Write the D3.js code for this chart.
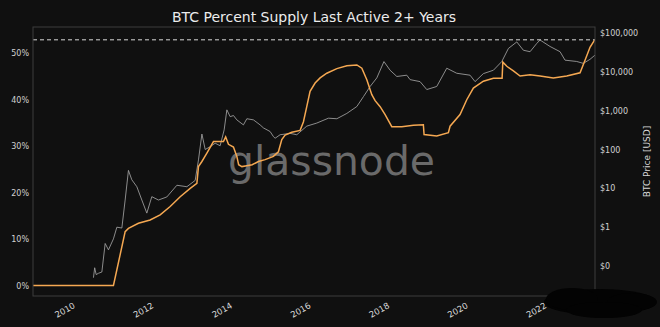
<!DOCTYPE html>
<html><head><meta charset="utf-8">
<script src="https://cdn.jsdelivr.net/npm/d3@7"></script>
<style>
html,body{margin:0;padding:0;background:#101010;}
svg{display:block;}
text{font-family:"DejaVu Sans",sans-serif;}
</style></head>
<body>
<svg id="c" width="660" height="327"></svg>
<script>
// ---- data (decimal years) ----
const supplyYears = [2009.01,2011.076,2011.374,2011.458,2011.712,2012.010,2012.265,2012.519,2012.774,2013.028,2013.198,2013.239,2013.326,2013.453,2013.621,2013.875,2013.931,2014.003,2014.130,2014.216,2014.262,2014.344,2014.471,2014.606,2014.766,2014.936,2015.148,2015.275,2015.361,2015.445,2015.616,2015.827,2015.911,2015.997,2016.081,2016.209,2016.336,2016.506,2016.761,2017.015,2017.270,2017.397,2017.524,2017.651,2017.735,2017.863,2017.990,2018.160,2018.415,2018.710,2018.964,2018.982,2019.305,2019.601,2019.644,2019.898,2020.069,2020.237,2020.491,2020.746,2020.967,2020.985,2021.087,2021.254,2021.425,2021.679,2021.934,2022.272,2022.613,2022.952,2023.079,2023.206,2023.333];
const supplyPct = [0,0,11.6,12.3,13.4,14.1,15.2,17.0,19.1,20.9,22.0,25.6,26.7,28.5,31.0,31.0,32.0,30.4,29.8,27.8,26.0,25.6,25.8,26.0,26.7,27.1,27.8,28.8,31.4,32.4,33.0,33.4,35.2,38.5,41.8,43.6,44.7,45.7,46.7,47.3,47.5,46.8,44.3,41.1,39.8,38.5,36.8,34.2,34.2,34.5,34.6,32.5,32.2,32.9,34.3,36.8,40.0,42.5,44.0,44.6,44.6,48.1,47.2,46.2,45.1,45.4,45.1,44.7,45.1,45.8,48.5,51.3,53.0];
const priceYears = [2010.567,2010.598,2010.636,2010.695,2010.781,2010.865,2010.949,2011.076,2011.163,2011.290,2011.374,2011.458,2011.544,2011.672,2011.799,2011.926,2012.053,2012.221,2012.435,2012.690,2012.944,2013.155,2013.239,2013.326,2013.410,2013.537,2013.664,2013.791,2013.893,2013.962,2014.046,2014.130,2014.216,2014.384,2014.471,2014.639,2014.809,2014.893,2015.064,2015.148,2015.191,2015.318,2015.573,2015.743,2015.997,2016.252,2016.547,2016.761,2017.015,2017.270,2017.438,2017.608,2017.779,2017.960,2018.117,2018.288,2018.542,2018.626,2018.880,2019.051,2019.305,2019.560,2019.814,2020.153,2020.280,2020.491,2020.746,2020.959,2021.127,2021.341,2021.509,2021.679,2021.850,2021.934,2022.188,2022.443,2022.570,2022.868,2023.036,2023.206,2023.333];
const priceUsd = [0.05,0.09,0.06,0.065,0.07,0.38,0.26,0.5,1.0,0.95,5,29,16.6,11,5,2.3,6.1,5,6,12,11,16,54,250,100,118,145,125,320,1050,700,750,580,430,620,580,430,360,290,215,195,240,260,240,400,480,640,620,850,1280,2300,4200,7000,18400,11000,7600,8200,6300,5600,3500,4200,12400,9200,8200,5600,9000,11000,18400,40000,59000,36000,33000,54000,66000,45000,33000,20000,18500,16500,21000,27000];
const pctTicks = [0,10,20,30,40,50];
const priceTicks = [0.1,1,10,100,1000,10000,100000];
const priceTickLabels = ["$0","$1","$10","$100","$1,000","$10,000","$100,000"];
const yearTicks = [2010,2012,2014,2016,2018,2020,2022];
const athPct = 52.9;
const title = "BTC Percent Supply Last Active 2+ Years";
const rightLabel = "BTC Price [USD]";

function toDate(yr){const y=Math.floor(yr);const a=Date.UTC(y,0,1),b=Date.UTC(y+1,0,1);return new Date(a+(yr-y)*(b-a));}

const svg = d3.select("#c");
const L=33,R=595,T=27,B=296;
svg.append("rect").attr("width",660).attr("height",327).attr("fill","#101010");

const x = d3.scaleUtc().domain([toDate(2009.027),toDate(2023.333)]).range([L,R]);
const yL = d3.scaleLinear().domain([-2.26,55.66]).range([B,T]);
const yR = d3.scaleLog().domain([Math.pow(10,-1.773),Math.pow(10,5.155)]).range([B,T]);

svg.append("defs").append("clipPath").attr("id","clip").append("rect").attr("x",L).attr("y",T).attr("width",R-L).attr("height",B-T);

// watermark
svg.append("text").attr("x",228).attr("y",175).attr("font-family","Inter, sans-serif").attr("font-size",40).attr("font-weight",400)
  .attr("fill","#6a6a6a").attr("textLength",207).attr("lengthAdjust","spacingAndGlyphs").text("glassnode");

const g = svg.append("g").attr("clip-path","url(#clip)");
// price line
const pData = priceYears.map((d,i)=>({d:toDate(d),v:priceUsd[i]}));
g.append("path").datum(pData).attr("fill","none").attr("stroke","#a2a2a2").attr("stroke-width",0.85)
  .attr("d",d3.line().x(d=>x(d.d)).y(d=>yR(d.v)));
// supply line
const sData = supplyYears.map((d,i)=>({d:toDate(d),v:supplyPct[i]}));
g.append("path").datum(sData).attr("fill","none").attr("stroke","#f5a852").attr("stroke-width",1.5)
  .attr("d",d3.line().x(d=>x(d.d)).y(d=>yL(d.v)));
// ATH dashed
g.append("line").attr("x1",L).attr("x2",R).attr("y1",yL(athPct)).attr("y2",yL(athPct))
  .attr("stroke","#d8d8d8").attr("stroke-width",1).attr("stroke-dasharray","4,3");

// frame
svg.append("rect").attr("x",L).attr("y",T).attr("width",R-L).attr("height",B-T).attr("fill","none").attr("stroke","#3c3c3c").attr("stroke-width",1);

// left axis
const ax = svg.append("g").attr("transform",`translate(${L},0)`)
  .call(d3.axisLeft(yL).tickValues(pctTicks).tickFormat(d=>d+"%").tickSize(0).tickPadding(4));
ax.select(".domain").remove();
ax.selectAll("text").attr("fill","#d0d0d0").attr("font-size",8).attr("font-family","DejaVu Sans");

// right axis
const ar = svg.append("g").attr("transform",`translate(${R},0)`)
  .call(d3.axisRight(yR).tickValues(priceTicks).tickFormat((d,i)=>priceTickLabels[i]).tickSize(0).tickPadding(5));
ar.select(".domain").remove();
ar.selectAll("text").attr("fill","#d0d0d0").attr("font-size",8).attr("font-family","DejaVu Sans");

// bottom axis
const ab = svg.append("g").attr("transform",`translate(0,${B})`)
  .call(d3.axisBottom(x).tickValues(yearTicks.map(y=>toDate(y))).tickFormat(d3.utcFormat("%Y")).tickSize(0).tickPadding(0));
ab.select(".domain").remove();
ab.selectAll("text").attr("fill","#d8d8d8").attr("font-size",8.5).attr("font-family","DejaVu Sans")
  .attr("text-anchor","end").attr("dy","0.72em").attr("y",0)
  .attr("transform","translate(1,6) rotate(-30)");

// title
svg.append("text").attr("x",(L+R)/2).attr("y",21.5).attr("text-anchor","middle").attr("fill","#ececec")
  .attr("font-size",14).text(title);
// right label
svg.append("text").attr("transform",`translate(650,${(T+B)/2}) rotate(-90)`).attr("text-anchor","middle")
  .attr("fill","#d8d8d8").attr("font-size",9).text(rightLabel);

// redaction blob
const blob = svg.append("g").attr("fill","#030303");
blob.append("ellipse").attr("cx",600).attr("cy",302).attr("rx",56).attr("ry",13);
blob.append("ellipse").attr("cx",572).attr("cy",299).attr("rx",26).attr("ry",11);
blob.append("ellipse").attr("cx",632).attr("cy",302).attr("rx",25).attr("ry",9);
blob.append("ellipse").attr("cx",604).attr("cy",310).attr("rx",38).attr("ry",8);
</script>
</body></html>
